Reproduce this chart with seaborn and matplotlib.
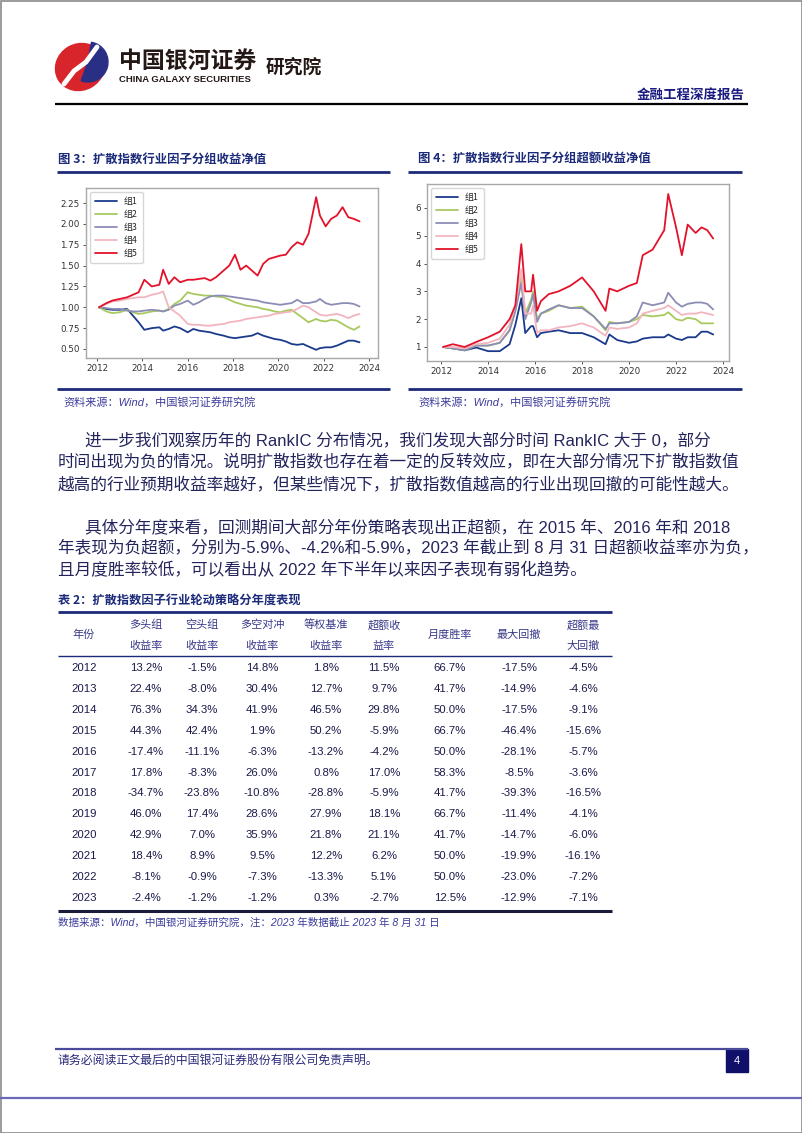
import matplotlib
matplotlib.use("Agg")
import matplotlib.pyplot as plt
import matplotlib.dates as mdates
from matplotlib.patches import Rectangle, Ellipse, Wedge
import pandas as pd
import seaborn as sns

# ---- chart data ----
groups = ["组1", "组2", "组3", "组4", "组5"]
group_colors = ["#1b3a8c", "#a9c95f", "#8c8db5", "#f2b5c0", "#e3122b"]

dates3 = ["2012-02", "2012-06", "2012-09", "2013-01", "2013-05", "2013-08", "2013-11",
          "2014-02", "2014-06", "2014-10", "2014-12", "2015-03", "2015-06", "2015-09",
          "2016-01", "2016-04", "2016-07", "2016-10", "2017-01", "2017-04", "2017-08",
          "2017-11", "2018-02", "2018-05", "2018-08", "2018-11", "2019-02", "2019-05",
          "2019-08", "2019-11", "2020-02", "2020-05", "2020-08", "2020-11", "2021-02",
          "2021-05", "2021-09", "2021-11", "2022-02", "2022-05", "2022-08", "2022-11",
          "2023-02", "2023-05", "2023-08"]
ret_g1 = [1.00, 0.98, 0.97, 0.97, 0.98, 0.90, 0.82, 0.73, 0.75, 0.76, 0.72, 0.74, 0.77, 0.75, 0.70,
          0.74, 0.72, 0.71, 0.70, 0.68, 0.66, 0.64, 0.63, 0.64, 0.65, 0.66, 0.69, 0.66, 0.64, 0.62,
          0.61, 0.59, 0.56, 0.55, 0.56, 0.53, 0.49, 0.51, 0.52, 0.52, 0.54, 0.57, 0.60, 0.60, 0.58]
ret_g2 = [1.00, 0.95, 0.93, 0.94, 0.97, 0.94, 0.92, 0.93, 0.95, 0.96, 0.95, 0.98, 1.04, 1.08, 1.18,
          1.16, 1.15, 1.14, 1.14, 1.13, 1.12, 1.09, 1.06, 1.04, 1.02, 1.01, 1.00, 0.98, 0.97, 0.95,
          0.94, 0.96, 0.97, 0.92, 0.87, 0.82, 0.86, 0.84, 0.83, 0.85, 0.84, 0.80, 0.76, 0.73, 0.77]
ret_g3 = [1.00, 0.99, 0.98, 0.98, 0.96, 0.95, 0.95, 0.96, 0.97, 0.96, 0.95, 0.97, 1.02, 1.04, 1.08,
          1.03, 1.06, 1.10, 1.13, 1.14, 1.14, 1.13, 1.12, 1.11, 1.10, 1.09, 1.08, 1.06, 1.05, 1.04,
          1.03, 1.04, 1.05, 1.09, 1.05, 1.05, 1.07, 1.10, 1.05, 1.03, 1.04, 1.05, 1.05, 1.04, 1.01]
ret_g4 = [1.00, 1.04, 1.07, 1.08, 1.10, 1.11, 1.12, 1.12, 1.15, 1.17, 1.19, 1.00, 0.95, 0.90, 0.80,
          0.79, 0.79, 0.78, 0.78, 0.79, 0.80, 0.82, 0.83, 0.84, 0.86, 0.87, 0.88, 0.89, 0.90, 0.92,
          0.93, 0.94, 0.95, 0.98, 1.02, 1.00, 0.94, 0.91, 0.90, 0.91, 0.92, 0.90, 0.87, 0.90, 0.92]
ret_g5 = [1.00, 1.05, 1.08, 1.10, 1.12, 1.15, 1.18, 1.33, 1.25, 1.27, 1.45, 1.28, 1.36, 1.30, 1.33,
          1.33, 1.34, 1.35, 1.32, 1.36, 1.44, 1.50, 1.63, 1.45, 1.50, 1.44, 1.38, 1.52, 1.58, 1.60,
          1.62, 1.63, 1.72, 1.78, 1.75, 1.88, 2.32, 2.10, 1.97, 2.06, 2.10, 2.20, 2.08, 2.06, 2.03]

dates4 = ["2012-02", "2012-07", "2013-01", "2013-07", "2014-01", "2014-07", "2014-12",
          "2015-03", "2015-06", "2015-08", "2015-11", "2015-12", "2016-02", "2016-04",
          "2016-08", "2017-01", "2017-07", "2018-01", "2018-07", "2019-01", "2019-03",
          "2019-07", "2020-01", "2020-05", "2020-08", "2021-01", "2021-07", "2021-09",
          "2022-01", "2022-04", "2022-07", "2022-11", "2023-02", "2023-05", "2023-08"]
exc_g1 = [1.00, 0.95, 0.88, 0.98, 0.85, 0.85, 1.10, 1.80, 2.75, 1.50, 1.75, 1.75, 1.35, 1.50, 1.55,
          1.60, 1.50, 1.50, 1.35, 1.10, 1.45, 1.25, 1.15, 1.20, 1.30, 1.35, 1.35, 1.45, 1.30, 1.25,
          1.35, 1.35, 1.55, 1.55, 1.45]
exc_g2 = [1.00, 0.95, 0.88, 1.05, 1.05, 1.15, 1.60, 2.30, 3.50, 2.20, 2.70, 3.00, 2.00, 2.20, 2.30,
          2.50, 2.40, 2.45, 2.10, 1.60, 1.90, 1.85, 1.90, 2.00, 2.15, 2.10, 2.15, 2.25, 2.00, 1.95,
          2.05, 2.00, 1.85, 1.85, 1.85]
exc_g3 = [1.00, 0.95, 0.88, 1.05, 1.05, 1.15, 1.60, 2.30, 3.30, 2.00, 2.60, 2.90, 1.90, 2.20, 2.35,
          2.50, 2.40, 2.40, 2.10, 1.65, 1.85, 1.85, 1.90, 2.10, 2.60, 2.50, 2.60, 2.95, 2.60, 2.45,
          2.55, 2.60, 2.60, 2.55, 2.35]
exc_g4 = [1.00, 1.00, 0.95, 1.10, 1.15, 1.30, 1.80, 2.50, 3.80, 2.20, 2.20, 2.50, 1.50, 1.60, 1.60,
          1.70, 1.75, 1.85, 1.70, 1.40, 1.70, 1.65, 1.70, 1.85, 2.20, 2.30, 2.40, 2.50, 2.30, 2.15,
          2.20, 2.20, 2.25, 2.20, 2.15]
exc_g5 = [1.00, 1.10, 1.00, 1.18, 1.35, 1.55, 2.00, 2.50, 4.70, 3.00, 3.00, 3.60, 2.30, 2.65, 2.90,
          3.00, 3.20, 3.50, 3.00, 2.30, 3.10, 3.00, 3.20, 3.30, 4.30, 4.50, 5.20, 6.50, 5.30, 4.30,
          5.40, 5.10, 5.30, 5.20, 4.90]

# ---- table data ----
table_head1 = ["", "多头组", "空头组", "多空对冲", "等权基准", "超额收", "", "", "超额最"]
table_head2 = ["", "收益率", "收益率", "收益率", "收益率", "益率", "", "", "大回撤"]
table_single = ["年份", "", "", "", "", "", "月度胜率", "最大回撤", ""]
table_rows = [
    ["2012", "13.2%", "-1.5%", "14.8%", "1.8%", "11.5%", "66.7%", "-17.5%", "-4.5%"],
    ["2013", "22.4%", "-8.0%", "30.4%", "12.7%", "9.7%", "41.7%", "-14.9%", "-4.6%"],
    ["2014", "76.3%", "34.3%", "41.9%", "46.5%", "29.8%", "50.0%", "-17.5%", "-9.1%"],
    ["2015", "44.3%", "42.4%", "1.9%", "50.2%", "-5.9%", "66.7%", "-46.4%", "-15.6%"],
    ["2016", "-17.4%", "-11.1%", "-6.3%", "-13.2%", "-4.2%", "50.0%", "-28.1%", "-5.7%"],
    ["2017", "17.8%", "-8.3%", "26.0%", "0.8%", "17.0%", "58.3%", "-8.5%", "-3.6%"],
    ["2018", "-34.7%", "-23.8%", "-10.8%", "-28.8%", "-5.9%", "41.7%", "-39.3%", "-16.5%"],
    ["2019", "46.0%", "17.4%", "28.6%", "27.9%", "18.1%", "66.7%", "-11.4%", "-4.1%"],
    ["2020", "42.9%", "7.0%", "35.9%", "21.8%", "21.1%", "41.7%", "-14.7%", "-6.0%"],
    ["2021", "18.4%", "8.9%", "9.5%", "12.2%", "6.2%", "50.0%", "-19.9%", "-16.1%"],
    ["2022", "-8.1%", "-0.9%", "-7.3%", "-13.3%", "5.1%", "50.0%", "-23.0%", "-7.2%"],
    ["2023", "-2.4%", "-1.2%", "-1.2%", "0.3%", "-2.7%", "12.5%", "-12.9%", "-7.1%"],
]

para1 = ["进一步我们观察历年的 RankIC 分布情况，我们发现大部分时间 RankIC 大于 0，部分",
         "时间出现为负的情况。说明扩散指数也存在着一定的反转效应，即在大部分情况下扩散指数值",
         "越高的行业预期收益率越好，但某些情况下，扩散指数值越高的行业出现回撤的可能性越大。"]
para2 = ["具体分年度来看，回测期间大部分年份策略表现出正超额，在 2015 年、2016 年和 2018",
         "年表现为负超额，分别为-5.9%、-4.2%和-5.9%，2023 年截止到 8 月 31 日超额收益率亦为负，",
         "且月度胜率较低，可以看出从 2022 年下半年以来因子表现有弱化趋势。"]

sns.set_theme(style="white")
CJK = ["Noto Sans CJK SC", "DejaVu Sans"]
MIX = ["Liberation Sans", "Noto Sans CJK SC"]
plt.rcParams["font.family"] = CJK
plt.rcParams["axes.unicode_minus"] = False

NAVY = "#1c2a7a"
TXT = "#24245c"
SRC = "#3c3c9c"

W, H = 802, 1133
fig = plt.figure(figsize=(W / 100, H / 100), dpi=100)
page = fig.add_axes([0, 0, 1, 1])
page.set_xlim(0, W)
page.set_ylim(H, 0)
page.axis("off")


def hline(y, x0, x1, lw, color):
    page.plot([x0, x1], [y, y], color=color, lw=lw, solid_capstyle="butt")


# page border
page.add_patch(Rectangle((0.5, 0.5), W - 1, H - 1, fill=False, ec="#8a8a8a", lw=1.2))

# logo
page.add_patch(Ellipse((80, 67), 50, 46, angle=-30, color="#d8242b"))
page.add_patch(Wedge((88, 62), 20, -80, 110, color="#2a2f86"))
page.plot([64, 74, 86, 97], [84, 71, 62, 47], color="white", lw=3.5)
page.text(119, 61, "中国银河证券", fontsize=16.5, fontweight="bold", color="#231815", va="center")
page.text(119, 80, "CHINA GALAXY SECURITIES", fontsize=6.8, fontweight="bold", color="#231815",
          va="center", family=["Liberation Sans"])
page.text(266, 67, "研究院", fontsize=13.5, fontweight="bold", color="#231815", va="center")
page.text(745, 95, "金融工程深度报告", fontsize=9.7, fontweight="bold", color="#1a1a80",
          va="center", ha="right")
hline(104, 55, 748, 1.6, "black")

# figure titles and rules
page.text(58, 159, "图 3：扩散指数行业因子分组收益净值", fontsize=8.9, fontweight="bold", color=NAVY, va="center")
page.text(418, 159, "图 4：扩散指数行业因子分组超额收益净值", fontsize=8.9, fontweight="bold", color=NAVY, va="center")
for x0, x1 in [(57, 390), (408, 742)]:
    hline(172, x0, x1, 2.0, NAVY)
    hline(389, x0, x1, 2.0, NAVY)
page.text(63, 402, "资料来源：Wind，中国银河证券研究院", fontsize=8, style="italic", color=SRC, va="center", family=MIX)
page.text(418, 402, "资料来源：Wind，中国银河证券研究院", fontsize=8, style="italic", color=SRC, va="center", family=MIX)

# paragraphs
for i, line in enumerate(para1):
    page.text(85 if i == 0 else 58, 441 + i * 21.5, line, fontsize=12.0, color=TXT, va="center", family=MIX)
for i, line in enumerate(para2):
    page.text(85 if i == 0 else 58, 527 + i * 21.5, line, fontsize=12.0, color=TXT, va="center", family=MIX)

# table
page.text(58, 601, "表 2：扩散指数因子行业轮动策略分年度表现", fontsize=8.8, fontweight="bold", color=NAVY, va="center")
hline(612, 58, 612, 2.0, NAVY)
hline(656, 58, 612, 1.0, NAVY)
hline(911, 58, 612, 2.2, "#1a1a3a")
col_x = [84, 146, 202, 262, 326, 384, 450, 519, 583]
for cx, h1, h2, hs in zip(col_x, table_head1, table_head2, table_single):
    if hs:
        page.text(cx, 635, hs, fontsize=8, color="#3a3a8a", ha="center", va="center")
    else:
        page.text(cx, 625, h1, fontsize=8, color="#3a3a8a", ha="center", va="center")
        page.text(cx, 646, h2, fontsize=8, color="#3a3a8a", ha="center", va="center")
for r, row in enumerate(table_rows):
    for cx, val in zip(col_x, row):
        page.text(cx, 668 + r * 20.9, val, fontsize=8.2, color="#1a1a4a", ha="center", va="center",
                  family=["Liberation Sans"])
page.text(58, 923, "数据来源：Wind，中国银河证券研究院，注：2023 年数据截止 2023 年 8 月 31 日",
          fontsize=7.6, style="italic", color=SRC, va="center", family=MIX)

# footer
hline(1049, 55, 748, 1.6, "#4b4b9b")
page.add_patch(Rectangle((726, 1049), 22, 23, color="#10106a"))
page.text(737, 1061, "4", fontsize=8, color="white", ha="center", va="center", family=["Liberation Sans"])
page.text(58, 1061, "请务必阅读正文最后的中国银河证券股份有限公司免责声明。", fontsize=8.6, color="#2a2a7a", va="center")
hline(1098, 0, W, 1.6, "#6a6ab8")


# ---- charts ----
def long_frame(dates, series):
    parts = []
    for name, vals in zip(groups, series):
        parts.append(pd.DataFrame({"date": pd.to_datetime(dates), "value": vals, "group": name}))
    return pd.concat(parts, ignore_index=True)


def draw_chart(rect, df, xlim, ylim, yticks, yfmt):
    ax = fig.add_axes(rect)
    sns.lineplot(data=df, x="date", y="value", hue="group", palette=group_colors,
                 linewidth=1.3, ax=ax)
    ax.set_xlim(pd.Timestamp(xlim[0]), pd.Timestamp(xlim[1]))
    ax.set_ylim(*ylim)
    ax.set_yticks(yticks)
    ax.set_yticklabels([yfmt.format(v) for v in yticks])
    ax.xaxis.set_major_locator(mdates.YearLocator(2))
    ax.xaxis.set_major_formatter(mdates.DateFormatter("%Y"))
    ax.set_xlabel("")
    ax.set_ylabel("")
    for s in ax.spines.values():
        s.set_color("#a8a8a8")
        s.set_linewidth(1.0)
    ax.tick_params(axis="both", labelsize=6.3, colors="#333333", length=2.5, width=0.6,
                   direction="out", pad=2, bottom=True, left=True)
    for lbl in ax.get_xticklabels() + ax.get_yticklabels():
        lbl.set_family(["DejaVu Sans"])
    ax.legend(loc="upper left", fontsize=6.4, frameon=True, edgecolor="#cccccc",
              handlelength=2.4, labelspacing=0.45, borderpad=0.55, fancybox=True)
    return ax


df3 = long_frame(dates3, [ret_g1, ret_g2, ret_g3, ret_g4, ret_g5])
df4 = long_frame(dates4, [exc_g1, exc_g2, exc_g3, exc_g4, exc_g5])

draw_chart([86 / W, 1 - 358 / H, 292 / W, 170 / H], df3,
           ("2011-07-07", "2024-05-25"), (0.392, 2.43),
           [0.50, 0.75, 1.00, 1.25, 1.50, 1.75, 2.00, 2.25], "{:.2f}")
draw_chart([427 / W, 1 - 361 / H, 302 / W, 177 / H], df4,
           ("2011-05-27", "2024-04-03"), (0.496, 6.86),
           [1, 2, 3, 4, 5, 6], "{:d}")

fig.savefig("out.png", dpi=100)
